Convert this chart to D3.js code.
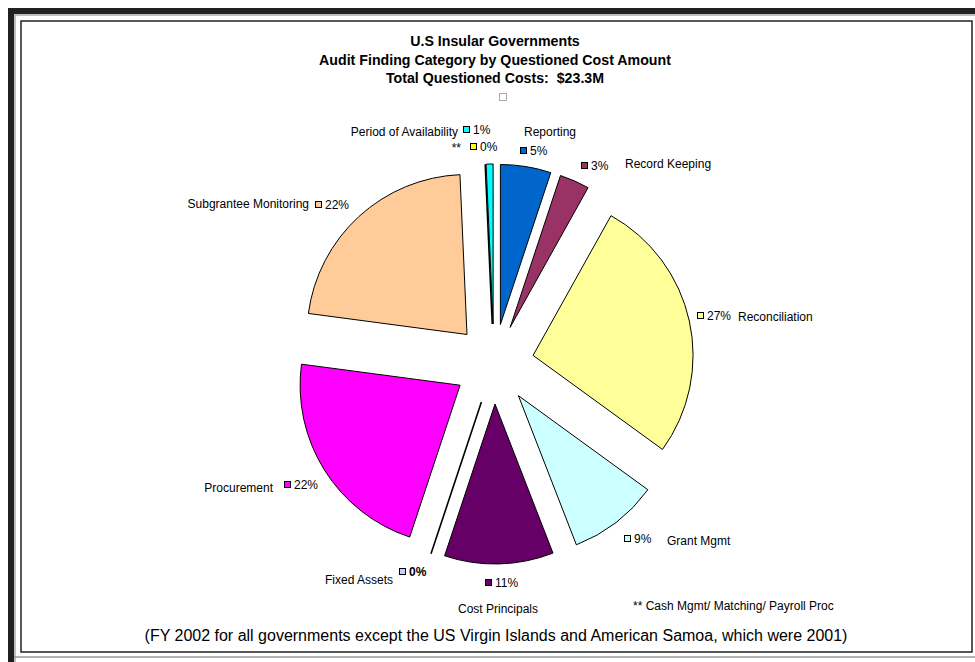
<!DOCTYPE html>
<html>
<head>
<meta charset="utf-8">
<script src="https://cdn.jsdelivr.net/npm/d3@7"></script>
<style>
  html, body { margin: 0; padding: 0; background: #fff; }
  svg { display: block; font-family: "Liberation Sans", Arial, sans-serif; }
  text { white-space: pre; }
</style>
</head>
<body>
<div id="chart"></div>
<script>
// data (percent of questioned costs, clockwise from 12 o'clock)
const categories = ["Reporting", "Record Keeping", "Reconciliation", "Grant Mgmt", "Cost Principals",
                    "Fixed Assets", "Procurement", "Subgrantee Monitoring", "**", "Period of Availability"];
const shares = [5.1, 3.0, 26.9, 9.1, 11.0, 0, 22.0, 22.2, 0, 0.7];
const colors = ["#0066CC", "#993366", "#FFFF99", "#CCFFFF", "#660066",
                "#CCCCFF", "#FF00FF", "#FFCC99", "#FFFF00", "#00FFFF"];
const titleLines = ["U.S Insular Governments",
                    "Audit Finding Category by Questioned Cost Amount",
                    "Total Questioned Costs:  $23.3M"];
const footnote = "** Cash Mgmt/ Matching/ Payroll Proc";
const bottomNote = "(FY 2002 for all governments except the US Virgin Islands and American Samoa, which were 2001)";

const W = 975, H = 662;
const cx = 494, cy = 364, radius = 160, explode = 40;

// label placement: key square (x,y) and category name (x,y,anchor)
const labelLayout = {
  "Reporting":              { kx: 520, ky: 147, nx: 524, ny: 136, na: "start" },
  "Record Keeping":         { kx: 581, ky: 162, nx: 625, ny: 168, na: "start" },
  "Reconciliation":         { kx: 697, ky: 312, nx: 738, ny: 321, na: "start" },
  "Grant Mgmt":             { kx: 624, ky: 535, nx: 667, ny: 545, na: "start" },
  "Cost Principals":        { kx: 485, ky: 579, nx: 458, ny: 613, na: "start" },
  "Fixed Assets":           { kx: 399, ky: 568, nx: 393, ny: 584, na: "end", bold: true },
  "Procurement":            { kx: 284, ky: 481, nx: 273, ny: 492, na: "end" },
  "Subgrantee Monitoring":  { kx: 315, ky: 201, nx: 309, ny: 208, na: "end" },
  "**":                     { kx: 470, ky: 143, nx: 461, ny: 152, na: "end" },
  "Period of Availability": { kx: 463, ky: 126, nx: 458, ny: 136, na: "end" }
};

const svg = d3.select("#chart").append("svg")
  .attr("width", W)
  .attr("height", H);

// frame
svg.append("rect").attr("x", 0).attr("y", 0).attr("width", W).attr("height", H).attr("fill", "#fff");
svg.append("path")
  .attr("d", `M11,${H + 5} V11 H${W + 5}`)
  .attr("fill", "none").attr("stroke", "#231f20").attr("stroke-width", 6);
svg.append("path")
  .attr("d", `M15,${H + 5} V15 H${W + 5}`)
  .attr("fill", "none").attr("stroke", "#aaa").attr("stroke-width", 1.5);
svg.append("line")
  .attr("x1", 14).attr("x2", W).attr("y1", 657).attr("y2", 657)
  .attr("stroke", "#999").attr("stroke-width", 1.5);
svg.append("rect")
  .attr("x", 21).attr("y", 21).attr("width", 951).attr("height", 631)
  .attr("fill", "#fff").attr("stroke", "#222").attr("stroke-width", 1.5);

// title
svg.selectAll(".title")
  .data(titleLines)
  .enter().append("text")
  .attr("class", "title")
  .attr("x", 495)
  .attr("y", (d, i) => 46 + i * 18.5)
  .attr("text-anchor", "middle")
  .style("font-size", "14.2px")
  .style("font-weight", "bold")
  .text(d => d);

svg.append("rect")
  .attr("x", 499.5).attr("y", 93.5).attr("width", 7).attr("height", 7)
  .attr("fill", "#fff").attr("stroke", "#aaa").attr("stroke-width", 1);

// pie
const data = categories.map((c, i) => ({ name: c, value: shares[i], color: colors[i] }));
const total = d3.sum(shares);
const pct = d3.format(".0%");

const pie = d3.pie().sort(null).value(d => d.value).startAngle(0).endAngle(2 * Math.PI);
const arc = d3.arc().innerRadius(0).outerRadius(radius);
const arcs = pie(data);

const g = svg.append("g").attr("transform", `translate(${cx},${cy})`);

g.selectAll(".slice")
  .data(arcs)
  .enter().append("path")
  .attr("class", "slice")
  .attr("transform", d => {
    const m = (d.startAngle + d.endAngle) / 2;
    return `translate(${explode * Math.sin(m)},${-explode * Math.cos(m)})`;
  })
  .attr("d", arc)
  .attr("fill", d => d.data.color)
  .attr("stroke", "#000")
  .attr("stroke-width", d => d.data.value === 0 ? 1.6 : 1)
  .attr("stroke-linejoin", "miter");

// labels
const labels = svg.selectAll(".lbl")
  .data(arcs)
  .enter().append("g")
  .attr("class", "lbl");

labels.append("rect")
  .attr("x", d => labelLayout[d.data.name].kx + 0.5)
  .attr("y", d => labelLayout[d.data.name].ky + 0.5)
  .attr("width", 6).attr("height", 6)
  .attr("fill", d => d.data.color)
  .attr("stroke", "#000").attr("stroke-width", 1);

labels.append("text")
  .attr("x", d => labelLayout[d.data.name].kx + 10)
  .attr("y", d => labelLayout[d.data.name].ky + 7.5)
  .style("font-size", "12px")
  .style("font-weight", d => labelLayout[d.data.name].bold ? "bold" : "normal")
  .text(d => pct(d.data.value / total));

labels.append("text")
  .attr("x", d => labelLayout[d.data.name].nx)
  .attr("y", d => labelLayout[d.data.name].ny)
  .attr("text-anchor", d => labelLayout[d.data.name].na)
  .style("font-size", "12px")
  .text(d => d.data.name);

svg.append("text")
  .attr("x", 633).attr("y", 610)
  .style("font-size", "12px")
  .text(footnote);

svg.append("text")
  .attr("x", 496).attr("y", 641)
  .attr("text-anchor", "middle")
  .style("font-size", "16px")
  .text(bottomNote);
</script>
</body>
</html>
